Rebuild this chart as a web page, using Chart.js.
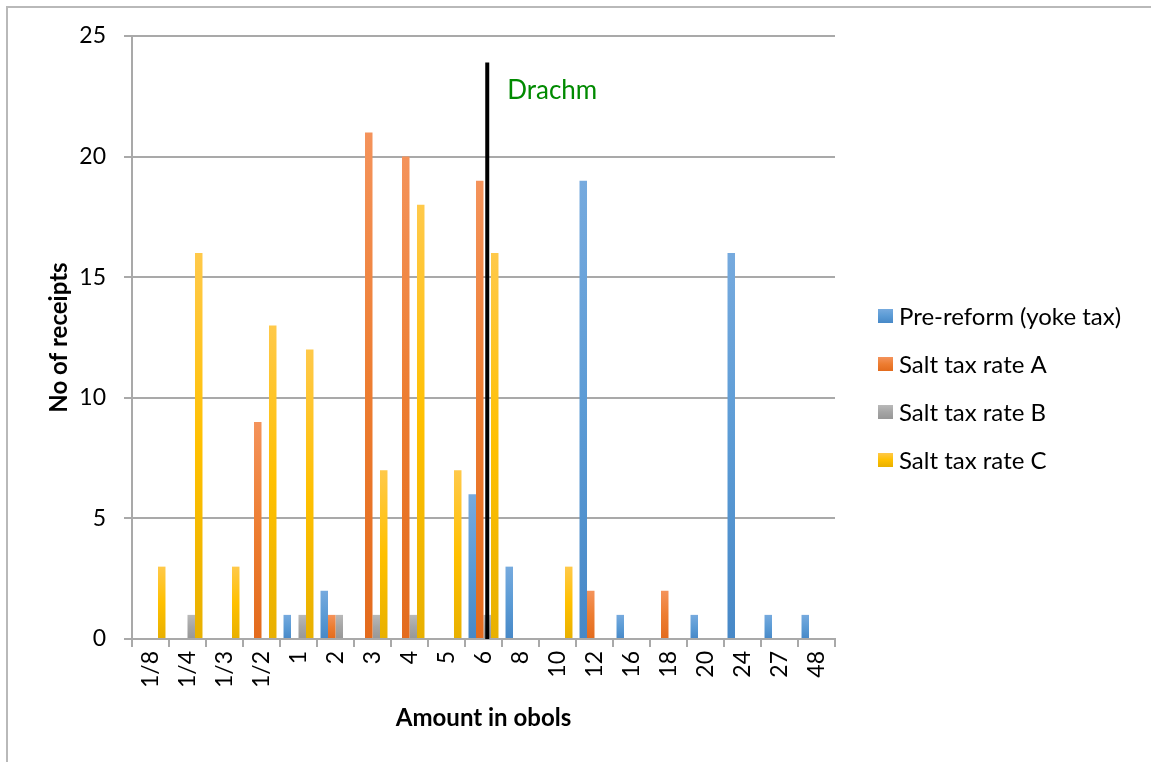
<!DOCTYPE html>
<html>
<head>
<meta charset="utf-8">
<script src="https://cdn.jsdelivr.net/npm/chart.js@4/dist/chart.umd.min.js"></script>
<style>
  html, body { margin: 0; padding: 0; background: #fff; overflow: hidden; }
  #frame { position: absolute; left: 6px; top: 6px; width: 1200px; height: 800px; border: 2px solid #b9b9b9; }
  #grafica { position: absolute; left: 0; top: 0; }
</style>
</head>
<body>
<div id="frame"></div>
<canvas id="grafica" width="1151" height="762"></canvas>
<script>
// data
const categorias = ['1/8', '1/4', '1/3', '1/2', '1', '2', '3', '4', '5', '6', '8', '10', '12', '16', '18', '20', '24', '27', '48'];
const preReform = [0, 0, 0, 0, 1, 2, 0, 0, 0, 6, 3, 0, 19, 1, 0, 1, 16, 1, 1];
const tasaA = [0, 0, 0, 9, 0, 1, 21, 20, 0, 19, 0, 0, 2, 0, 2, 0, 0, 0, 0];
const tasaB = [0, 1, 0, 0, 1, 1, 1, 1, 0, 1, 0, 0, 0, 0, 0, 0, 0, 0, 0];
const tasaC = [3, 16, 3, 13, 12, 0, 7, 18, 7, 16, 0, 3, 0, 0, 0, 0, 0, 0, 0];
const yTicks = [0, 5, 10, 15, 20, 25];
const drachmEn = '6';
const drachmHasta = 23.9;

const fuente = 'Lato, "Open Sans", sans-serif';

// colours: top, middle, bottom of each bar
const colores = [
    ['#76aade', '#5b9bd5', '#4788c7'],
    ['#f4935b', '#ed7d31', '#e36b1d'],
    ['#b9b9b9', '#a5a5a5', '#979797'],
    ['#ffc94a', '#ffc000', '#e8b000']
];

function gradiente(ctx, y0, y1, c) {
    const g = ctx.createLinearGradient(0, y0, 0, y1);
    g.addColorStop(0, c[0]);
    g.addColorStop(0.5, c[1]);
    g.addColorStop(1, c[2]);
    return g;
}

// gradient per bar, lighter at the top like the office style
function degradado(c) {
    return (cx) => {
        const chart = cx.chart;
        if (!chart.chartArea || cx.type !== 'data') return c[1];
        const y = chart.scales.y;
        const y0 = y.getPixelForValue(cx.raw);
        const y1 = y.getPixelForValue(0);
        if (!isFinite(y0) || y1 - y0 < 1) return c[1];
        return gradiente(chart.ctx, y0, y1, c);
    };
}

const lineaDrachm = {
    id: 'lineaDrachm',
    afterDatasetsDraw(chart) {
        const { ctx, scales } = chart;
        const idx = categorias.indexOf(drachmEn);
        const x = chart.getDatasetMeta(2).data[idx].x;
        const yTop = scales.y.getPixelForValue(drachmHasta);
        const yBot = scales.y.getPixelForValue(0);
        ctx.save();
        ctx.strokeStyle = '#000';
        ctx.lineWidth = 4;
        ctx.beginPath();
        ctx.moveTo(x, yTop);
        ctx.lineTo(x, yBot);
        ctx.stroke();
        ctx.fillStyle = '#008A00';
        ctx.font = '26px ' + fuente;
        ctx.textBaseline = 'alphabetic';
        ctx.fillText('Drachm', x + 20, scales.y.getPixelForValue(22.4));
        ctx.restore();
    }
};

// legend on the right, drawn by hand so it can sit where the picture has it
const leyenda = {
    id: 'leyenda',
    afterDraw(chart) {
        const { ctx, chartArea } = chart;
        const x = chartArea.right + 43;
        const paso = 48;
        const centro = chart.height / 2 + 7;
        const n = chart.data.datasets.length;
        ctx.save();
        ctx.font = '24px ' + fuente;
        ctx.textBaseline = 'middle';
        chart.data.datasets.forEach((ds, i) => {
            const y = centro + (i - (n - 1) / 2) * paso;
            ctx.fillStyle = gradiente(ctx, y - 7, y + 7, colores[i]);
            ctx.fillRect(x, y - 7, 15, 14);
            ctx.fillStyle = '#000';
            ctx.fillText(ds.label, x + 21, y + 1);
        });
        ctx.restore();
    }
};

(async () => {
    try {
        await Promise.all([
            document.fonts.load('24px Lato'),
            document.fonts.load('bold 24px Lato')
        ]);
    } catch (e) {
        console.error('fuentes', e);
    }

    const $grafica = document.querySelector('#grafica');

    new Chart($grafica, {
        type: 'bar',
        data: {
            labels: categorias,
            datasets: [
                { label: 'Pre-reform (yoke tax)', data: preReform, backgroundColor: degradado(colores[0]) },
                { label: 'Salt tax rate A', data: tasaA, backgroundColor: degradado(colores[1]) },
                { label: 'Salt tax rate B', data: tasaB, backgroundColor: degradado(colores[2]) },
                { label: 'Salt tax rate C', data: tasaC, backgroundColor: degradado(colores[3]) }
            ]
        },
        options: {
            responsive: false,
            animation: false,
            categoryPercentage: 0.81,
            barPercentage: 1,
            layout: { padding: { top: 36, left: 0, right: 316, bottom: 0 } },
            plugins: {
                tooltip: { enabled: false },
                legend: { display: false }
            },
            scales: {
                x: {
                    grid: { display: true, drawOnChartArea: false, drawTicks: true, tickLength: 8, color: '#a9a9a9', lineWidth: 2 },
                    border: { color: '#a9a9a9', width: 2 },
                    ticks: { color: '#000', font: { family: fuente, size: 23 }, minRotation: 90, maxRotation: 90, padding: 4, autoSkip: false },
                    title: { display: true, text: 'Amount in obols', color: '#000', font: { family: fuente, size: 24, weight: 'bold' }, padding: { top: 0, bottom: 29 } },
                    afterFit: (s) => { s.height = 123; }
                },
                y: {
                    min: 0,
                    max: 25,
                    afterBuildTicks: (s) => { s.ticks = yTicks.map(v => ({ value: v })); },
                    grid: { color: '#a9a9a9', lineWidth: 2, tickLength: 8 },
                    border: { color: '#a9a9a9', width: 2 },
                    ticks: { color: '#000', font: { family: fuente, size: 23 }, padding: 18 },
                    title: { display: true, text: 'No of receipts', color: '#000', font: { family: fuente, size: 24, weight: 'bold' }, padding: { top: 45, bottom: 0 } },
                    afterFit: (s) => { s.width = 132; }
                }
            }
        },
        plugins: [lineaDrachm, leyenda]
    });
})();
</script>
</body>
</html>
